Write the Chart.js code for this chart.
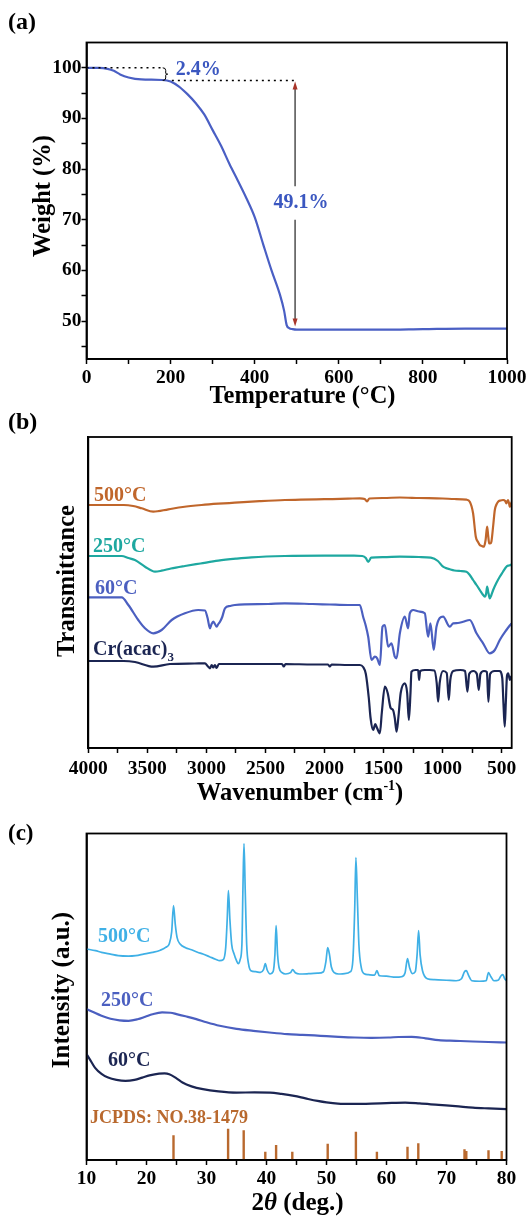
<!DOCTYPE html>
<html><head><meta charset="utf-8">
<script src="https://cdn.jsdelivr.net/npm/chart.js@4.4.1/dist/chart.umd.min.js"></script>
<style>
html,body{margin:0;padding:0;background:#fff;}
#page{position:relative;width:530px;height:1217px;overflow:hidden;background:#fff;font-family:"Liberation Serif","Times New Roman",serif;font-weight:bold;color:#000;}
canvas{position:absolute;left:0;}
.t{position:absolute;white-space:nowrap;line-height:1;}
.ctr{position:absolute;white-space:nowrap;line-height:1;transform:translateX(-50%);}
.rot{position:absolute;white-space:nowrap;line-height:1;transform:translate(-50%,-50%) rotate(-90deg);}
</style></head>
<body><div id="page">
<canvas id="ca" width="530" height="400" style="top:0;width:530px;height:400px"></canvas>
<canvas id="cb" width="530" height="380" style="top:410px;width:530px;height:380px"></canvas>
<canvas id="cc" width="530" height="417" style="top:800px;width:530px;height:417px"></canvas>

<div class="t" style="left:8px;top:9px;font-size:24px">(a)</div>
<div class="t" style="left:8px;top:409px;font-size:24px">(b)</div>
<div class="t" style="left:8px;top:821px;font-size:23px">(c)</div>

<div class="rot" style="left:41.5px;top:196px;font-size:24.5px">Weight (%)</div>
<div class="ctr" style="left:302.5px;top:382.6px;font-size:24.5px">Temperature (°C)</div>

<div class="rot" style="left:65.5px;top:580.6px;font-size:24.5px">Transmittance</div>
<div class="ctr" style="left:300px;top:779.6px;font-size:24.5px">Wavenumber (cm<span style="font-size:14px;position:relative;top:-10px">-1</span>)</div>
<div class="t" style="left:94px;top:484px;font-size:20px;color:#c0662b">500°C</div>
<div class="t" style="left:93px;top:535px;font-size:20px;color:#1ea8a0">250°C</div>
<div class="t" style="left:95px;top:576.6px;font-size:20px;color:#4b5fc0">60°C</div>
<div class="t" style="left:93px;top:638px;font-size:20px;color:#1b2552">Cr(acac)<span style="font-size:13px;position:relative;top:6px">3</span></div>

<div class="rot" style="left:60px;top:989.8px;font-size:25px">Intensity (a.u.)</div>
<div class="ctr" style="left:297.5px;top:1189px;font-size:25px">2<i>θ</i> (deg.)</div>
<div class="t" style="left:98px;top:925px;font-size:20px;color:#3fb0e6">500°C</div>
<div class="t" style="left:101px;top:989px;font-size:20px;color:#4b5fc0">250°C</div>
<div class="t" style="left:108px;top:1048.6px;font-size:20px;color:#1b2552">60°C</div>
<div class="t" style="left:90px;top:1108px;font-size:18px;color:#b9692e">JCPDS: NO.38-1479</div>
</div>
<script>
// ---------------- DATA ----------------
// (a) TGA
const tgaTemp = [0,30,50,65,80,100,130,180,200,220,240,260,280,300,320,340,360,380,400,420,440,460,470,476,482,490,500,550,600,700,800,900,1000];
const tgaWeight = [100,100,99.8,99.4,98.7,98.1,97.7,97.6,97.3,96.3,94.8,93.0,90.8,87.7,84.6,81.0,77.7,74.3,70.5,65.2,60.0,55.2,52.0,49.2,48.6,48.4,48.3,48.3,48.3,48.3,48.4,48.5,48.5];
const tgaXTicks = [0,100,200,300,400,500,600,700,800,900,1000];
const tgaXLabels = [0,200,400,600,800,1000];
const tgaYTicks = [45,50,55,60,65,70,75,80,85,90,95,100];
const tgaYLabels = [50,60,70,80,90,100];

// (b) FTIR: [wavenumber, transmittance (offset, a.u.)]
const ir500 = [[4000,243],[3850,243],[3700,243],[3620,242],[3548,239.7],[3450,236.3],[3322,238.7],[3200,241],[3041,243],[2900,244.3],[2759,245.3],[2550,246.8],[2336,248],[2200,248.3],[2000,248.8],[1800,249.3],[1700,249.7],[1660,249],[1640,246.5],[1620,249.5],[1500,250],[1362,250.5],[1200,250],[1000,249.5],[900,249],[798,248.3],[770,246.3],[742,234.7],[719,211.3],[700,206],[685,203],[668,202],[651,201.3],[636,208],[623,221.3],[614,212],[606,204.7],[597,204.5],[587,206.3],[572,222],[558,238],[544,243.5],[530,246.3],[510,247.5],[488,248],[470,247],[460,244.7],[453,246.5],[446,248],[438,245],[431,241],[415,246]];
const ir250 = [[4000,192],[3800,192],[3717,192],[3660,190],[3605,188],[3520,181.3],[3435,176.3],[3379,177.3],[3300,179.5],[3182,182],[3050,184.5],[2900,187.3],[2750,189.3],[2618,190.7],[2336,192],[2000,192.3],[1750,192.3],[1680,192],[1650,190],[1630,186],[1605,190.3],[1500,190.8],[1362,191.3],[1200,191],[1100,190.3],[1040,187],[996,181.3],[960,179.5],[939,178.7],[900,177.5],[850,177],[798,176.3],[770,173],[742,168],[713,163],[685,158],[660,153.5],[643,151.3],[632,154],[623,161.3],[612,155],[601,149.7],[587,153],[572,158],[545,165],[516,171.3],[490,176],[460,181.3],[440,182.5],[423,183],[415,184]];
const ir60 = [[4000,150.7],[3800,150.7],[3717,150.7],[3661,143],[3577,128],[3520,119.7],[3450,114.7],[3379,118],[3294,128],[3182,134.7],[3069,138],[3012,137.5],[2990,130],[2970,119.7],[2956,124],[2942,126.3],[2928,124],[2913,121.3],[2899,124],[2885,126.3],[2866,131],[2843,139.7],[2800,142],[2759,143],[2477,144],[2336,144.7],[2100,144],[1955,143.5],[1800,143],[1701,143],[1673,131.3],[1650,122],[1630,111.3],[1602,88],[1574,91.3],[1554,89.7],[1531,83],[1509,121.3],[1489,123],[1461,101.3],[1433,104.7],[1405,91.3],[1390,89.7],[1362,114.7],[1320,131.3],[1292,119.7],[1278,134.7],[1249,138],[1200,136.5],[1151,134.7],[1123,111.3],[1103,124.7],[1075,98],[1052,121.3],[996,131.3],[939,121.3],[911,124.7],[870,125],[826,126.3],[770,128],[713,114.7],[657,104.7],[601,94.7],[558,98],[516,108],[460,118],[417,124.7]];
const irCr = [[4000,87],[3700,87],[3605,86],[3450,81.3],[3309,84],[3100,84.5],[3012,84.7],[2990,82],[2970,79.7],[2955,83],[2942,80.5],[2928,83],[2913,80],[2895,84],[2700,84],[2500,84],[2360,84],[2345,81.5],[2330,84],[2100,83.5],[1970,83.5],[1955,81.5],[1940,83.5],[1800,83],[1701,83],[1673,81],[1650,74],[1625,50],[1610,30],[1588,18],[1570,24],[1555,20],[1531,14.7],[1515,35],[1489,61.3],[1465,55],[1440,40],[1420,38],[1405,30],[1390,16.3],[1375,30],[1355,55],[1320,64.7],[1300,55],[1286,28],[1272,55],[1264,76.3],[1230,78],[1207,78],[1199,68],[1190,77],[1150,78],[1108,78],[1070,77.5],[1050,65],[1038,46.3],[1025,65],[996,77],[965,75],[948,48],[935,68],[910,77],[850,78],[810,77],[790,56.3],[775,74],[740,77],[710,74],[694,58],[680,74],[650,77],[625,76],[612,46.3],[598,74],[560,77],[520,77],[495,70],[485,45],[474,21.3],[465,45],[455,72],[445,74.7],[430,68],[417,72]];
const irXTicks = [4000,3750,3500,3250,3000,2750,2500,2250,2000,1750,1500,1250,1000,750,500];
const irXLabels = [4000,3500,3000,2500,2000,1500,1000,500];

// (c) XRD: [2theta, intensity (offset, a.u.)]
const xrd500 = [[10,210.7],[11.5,209],[12.5,207.3],[14,205.5],[15.3,204],[17,203.5],[18.2,204],[19.5,205.5],[21,207.3],[22.3,209.5],[23.2,212.3],[23.8,216],[24.2,228],[24.5,254],[24.8,235],[25.1,222],[25.6,215.7],[26.5,212],[27.5,210],[28.5,207.5],[29.4,205.7],[30.5,203],[31.5,200.5],[32.2,199],[32.8,200],[33.2,212],[33.45,240],[33.65,269],[33.9,240],[34.2,215],[34.6,205.7],[35.0,199],[35.3,196],[35.6,200],[35.9,215],[36.1,280],[36.25,316],[36.45,270],[36.7,215],[37.0,196],[37.4,189],[38.2,188],[39.0,187.3],[39.5,190],[39.8,196],[40.1,190],[40.6,185.7],[41.1,188],[41.4,205],[41.6,234],[41.85,205],[42.1,192],[42.6,187],[43.2,185.7],[44.0,187],[44.35,190],[44.8,187],[45.5,185.7],[47,186],[48.5,186.5],[49.5,188],[49.9,198],[50.2,212],[50.5,205],[50.8,193],[51.3,187],[52,185.7],[53,186],[54.0,188],[54.4,200],[54.7,250],[54.9,302],[55.15,260],[55.4,215],[55.8,192],[56.3,186],[57,185],[58.0,184.5],[58.4,189],[58.8,184],[60,183.5],[61.5,182.5],[62.5,183],[63.1,187],[63.5,201],[63.85,192],[64.3,186],[64.8,188],[65.1,205],[65.35,229],[65.6,205],[66.0,189],[66.8,181],[68,180],[70,179.5],[71.6,179],[72.5,181],[73.0,188],[73.3,189],[73.7,184],[74.2,179],[75.5,178.5],[76.6,179],[77.0,187],[77.4,183],[77.9,179],[78.6,179.5],[79.1,184],[79.4,185],[79.7,181],[80,179]];
const xrd250 = [[10,150.7],[11,148],[12.5,144],[14,141],[15.5,139.5],[17,139],[18.5,140.5],[19.8,143],[21,145.5],[22.6,147.3],[24,147],[25,145.7],[26.5,143.5],[28.3,140.7],[30,137.5],[32.2,134],[35,131],[37.8,129],[40.5,127.3],[43.5,125.7],[46,125],[49,124],[52,123],[54.7,122.3],[57.5,122],[60.3,122.3],[62,122.8],[64.2,123],[66.5,121.5],[68.7,119.7],[71.5,119],[74.4,118.3],[77,117.8],[80,117.3]];
const xrd60 = [[10,105.7],[10.5,101],[11.4,92.3],[12.5,86],[13.6,82.3],[15,80],[16.5,79],[18,80],[19.3,82.3],[20.5,84.5],[22.1,86.3],[23,86.5],[23.8,85.7],[25,81.5],[26,77.3],[27.5,73.5],[29.4,70.7],[32,68.5],[35,67.3],[38,67.5],[40.6,67.3],[42.5,66],[44.6,64],[46.5,61.5],[48.5,59],[50,57.5],[51.9,56.3],[54.5,56],[57.5,56.3],[60,56.8],[63.1,57.3],[65.5,56.5],[68.7,55],[71.5,53.8],[74.4,52.3],[77,51.5],[80,50.7]];
const jcpds = [[24.5,24.7],[33.6,31.3],[36.2,29.7],[39.8,8.3],[41.6,15],[44.3,8.3],[50.2,16.3],[54.9,28.3],[58.4,8.3],[63.5,13.3],[65.3,16.7],[73.0,10.7],[73.3,9],[77.0,9.7],[79.2,9]];
const xrdXTicks = [10,15,20,25,30,35,40,45,50,55,60,65,70,75,80];
const xrdXLabels = [10,20,30,40,50,60,70,80];

// ---------------- HELPERS ----------------
const FONT = "'Liberation Serif','Times New Roman',serif";
const tickFont = {family: FONT, size: 19.5, weight: 'bold'};
const xy = pairs => pairs.map(p => ({x: p[0], y: p[1]}));
const line = (pairs, color, w) => ({data: xy(pairs), borderColor: color, borderWidth: w, pointRadius: 0, fill: false, cubicInterpolationMode: 'monotone'});

function tickAxis(o) {
  return {
    type: 'linear', min: o.min, max: o.max, reverse: !!o.reverse,
    afterBuildTicks: s => { s.ticks = o.ticks.map(v => ({value: v})); },
    ticks: {autoSkip: false, maxRotation: 0, minRotation: 0, padding: o.pad, color: '#000', font: tickFont,
      callback: v => o.labels.includes(v) ? String(v) : ''},
    grid: {display: true, drawOnChartArea: false, drawTicks: true, tickLength: 5, tickWidth: 1.5, tickColor: '#000'},
    border: {display: true, color: '#000', width: 1.8},
    afterFit: s => { if (o.w !== undefined) s.width = o.w; if (o.h !== undefined) s.height = o.h; }
  };
}
function plainY(max, w) {
  return {type: 'linear', min: 0, max: max, ticks: {display: false}, grid: {display: false, drawTicks: false},
    border: {display: true, color: '#000', width: 1.8}, afterFit: s => { s.width = w; }};
}
const boxPlugin = {id: 'box', afterDraw(chart) {
  const {ctx, chartArea: a} = chart;
  ctx.save(); ctx.strokeStyle = '#000'; ctx.lineWidth = 1.8;
  ctx.strokeRect(a.left, a.top, a.right - a.left, a.bottom - a.top); ctx.restore();
}};
const base = {responsive: false, animation: false, devicePixelRatio: 1,
  plugins: {legend: {display: false}, tooltip: {enabled: false}}, elements: {line: {borderJoinStyle: 'round'}}};

// ---------------- (a) TGA ----------------
const tgaNotes = {id: 'tgaNotes', afterDatasetsDraw(chart) {
  const {ctx, scales: {x, y}} = chart;
  const X = v => x.getPixelForValue(v), Y = v => y.getPixelForValue(v);
  const seg = (x1, y1, x2, y2) => { ctx.beginPath(); ctx.moveTo(x1, y1); ctx.lineTo(x2, y2); ctx.stroke(); };
  ctx.save();
  ctx.strokeStyle = '#000'; ctx.lineWidth = 1.6; ctx.setLineDash([2, 4]);
  seg(X(0), Y(100), X(183), Y(100));
  seg(X(203), Y(97.5), X(496), Y(97.5));
  ctx.setLineDash([]);
  // brace
  const bx = X(186), t = Y(100), b = Y(97.5), m = (t + b) / 2;
  ctx.lineWidth = 1; ctx.beginPath();
  ctx.moveTo(bx - 2, t); ctx.quadraticCurveTo(bx + 1, t, bx + 1, t + 2.5); ctx.lineTo(bx + 1, m - 1);
  ctx.quadraticCurveTo(bx + 1, m, bx + 3, m); ctx.quadraticCurveTo(bx + 1, m, bx + 1, m + 1);
  ctx.lineTo(bx + 1, b - 2.5); ctx.quadraticCurveTo(bx + 1, b, bx - 2, b); ctx.stroke();
  // double arrow
  const ax = X(496), top = Y(97.3), bot = Y(48.9);
  ctx.strokeStyle = '#222'; ctx.lineWidth = 1.2;
  seg(ax, top + 6, ax, Y(76.6)); seg(ax, Y(70.0), ax, bot - 6);
  ctx.fillStyle = '#a8352a';
  ctx.beginPath(); ctx.moveTo(ax, top); ctx.lineTo(ax - 2.5, top + 8); ctx.lineTo(ax + 2.5, top + 8); ctx.closePath(); ctx.fill();
  ctx.beginPath(); ctx.moveTo(ax, bot); ctx.lineTo(ax - 2.5, bot - 8); ctx.lineTo(ax + 2.5, bot - 8); ctx.closePath(); ctx.fill();
  // texts
  ctx.fillStyle = '#3b57c0'; ctx.font = "bold 20px " + FONT; ctx.textAlign = 'center'; ctx.textBaseline = 'middle';
  ctx.fillText('2.4%', X(266), Y(99.6));
  ctx.fillText('49.1%', X(510), Y(73.3));
  ctx.restore();
}};
new Chart(document.getElementById('ca'), {
  type: 'line',
  data: {datasets: [line(tgaTemp.map((t, i) => [t, tgaWeight[i]]), '#4a5fc4', 2.2)]},
  options: Object.assign({}, base, {
    layout: {padding: {top: 42.5, right: 23, bottom: 0, left: 0}},
    scales: {
      x: tickAxis({min: 0, max: 1000, ticks: tgaXTicks, labels: tgaXLabels, pad: 2, h: 41}),
      y: tickAxis({min: 42.5, max: 105, ticks: tgaYTicks, labels: tgaYLabels, pad: 0, w: 86.5})
    }
  }),
  plugins: [tgaNotes, boxPlugin]
});

// ---------------- (b) FTIR ----------------
new Chart(document.getElementById('cb'), {
  type: 'line',
  data: {datasets: [
    line(ir500, '#c0662b', 2.2), line(ir250, '#1ea8a0', 2.2), line(ir60, '#4b5fc0', 2.2), line(irCr, '#1b2552', 2.2)
  ]},
  options: Object.assign({}, base, {
    layout: {padding: {top: 27, right: 18.3, bottom: 0, left: 0}},
    scales: {
      x: tickAxis({min: 415, max: 4000, reverse: true, ticks: irXTicks, labels: irXLabels, pad: 4.6, h: 42}),
      y: plainY(311, 88.3)
    }
  }),
  plugins: [boxPlugin]
});

// ---------------- (c) XRD ----------------
const barPts = [];
jcpds.forEach(p => { barPts.push([p[0], 0], [p[0], p[1]], [p[0], null]); });
const barDS = {data: xy(barPts), borderColor: '#b9692e', borderWidth: 2.4, pointRadius: 0, fill: false, spanGaps: false, tension: 0, borderCapStyle: 'butt'};
new Chart(document.getElementById('cc'), {
  type: 'line',
  data: {datasets: [
    line(xrd500, '#3fb0e6', 1.7), line(xrd250, '#4b5fc0', 2.2), line(xrd60, '#1b2552', 2.2), barDS
  ]},
  options: Object.assign({}, base, {
    layout: {padding: {top: 33.5, right: 23.5, bottom: 0, left: 0}},
    scales: {
      x: tickAxis({min: 10, max: 80, ticks: xrdXTicks, labels: xrdXLabels, pad: 2.6, h: 57}),
      y: plainY(326, 86.5)
    }
  }),
  plugins: [boxPlugin]
});
</script>
</body></html>
